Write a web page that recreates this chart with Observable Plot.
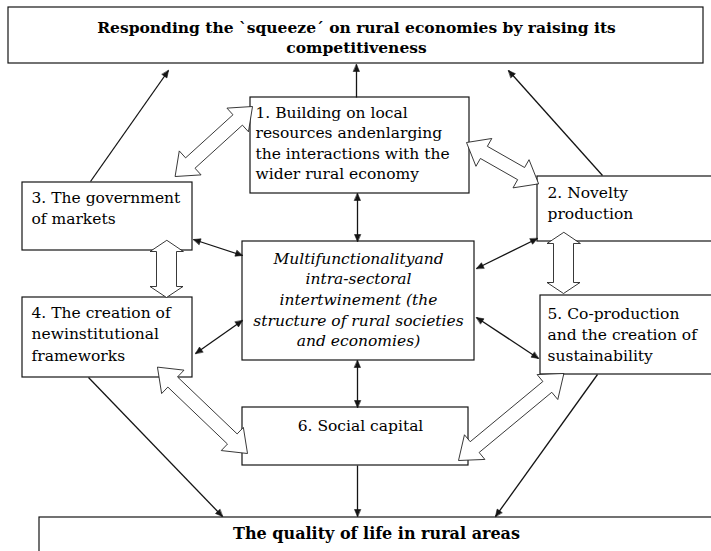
<!DOCTYPE html>
<html><head><meta charset="utf-8">
<script src="https://cdn.jsdelivr.net/npm/d3@7"></script>
<script src="https://cdn.jsdelivr.net/npm/@observablehq/plot@0.6"></script>
<style>body{margin:0;background:#fff}</style>
</head><body><div id="chart"></div>
<script>
// ---- diagram content ----
const boxIds = ["top","b1","b2","b3","b4","b5","center","b6","bottom"];
const boxLines = [
  ["Responding the `squeeze´ on rural economies by raising its", "competitiveness"],
  ["1. Building on local", "resources andenlarging", "the interactions with the", "wider rural economy"],
  ["2. Novelty", "production"],
  ["3. The government", "of markets"],
  ["4. The creation of", "newinstitutional", "frameworks"],
  ["5. Co-production", "and the creation of", "sustainability"],
  ["Multifunctionalityand", "intra-sectoral", "intertwinement (the", "structure of rural societies", "and economies)"],
  ["6. Social capital"],
  ["The quality of life in rural areas"]
];
const boxStyle = ["bold","plain","plain","plain","plain","plain","italic","plain","bold"];

// thin connectors (from box -> to box) and which ends carry heads
const linkFrom  = ["b1","b3","b2","b1","b3","b4","b2","b5","center","b6","b4","b5"];
const linkTo    = ["top","top","top","center","center","center","center","center","b6","bottom","bottom","bottom"];
const linkHeads = ["end","end","end","both","both","both","both","both","both","end","end","end"];

// hollow double block arrows
const blockFrom = ["b1","b1","b3","b2","b4","b5"];
const blockTo   = ["b3","b2","b4","b5","b6","b6"];

// ---- layout (pixel geometry of the diagram) ----
const boxLayout = {
  top:    {x1:8,   y1:7,   x2:703, y2:63,  tx:356, ty:32,  lh:20,   anchor:"middle", fs:15.5},
  b1:     {x1:250, y1:97,  x2:469, y2:193, tx:255, ty:117, lh:20.5, anchor:"start",  fs:15.5},
  b2:     {x1:537, y1:176, x2:716, y2:241, tx:547, ty:197, lh:21,   anchor:"start",  fs:15.5},
  b3:     {x1:22,  y1:182, x2:192, y2:250, tx:31,  ty:202, lh:21,   anchor:"start",  fs:15.5},
  b4:     {x1:22,  y1:297, x2:192, y2:377, tx:31,  ty:317, lh:21.5, anchor:"start",  fs:15.5},
  b5:     {x1:540, y1:295, x2:716, y2:374, tx:547, ty:318, lh:21,   anchor:"start",  fs:15.5},
  center: {x1:242, y1:241, x2:474, y2:360, tx:358, ty:263, lh:20.7, anchor:"middle", fs:15.5},
  b6:     {x1:242, y1:407, x2:468, y2:465, tx:360, ty:430, lh:20,   anchor:"middle", fs:15.5},
  bottom: {x1:39,  y1:517, x2:716, y2:570, tx:376, ty:538, lh:20,   anchor:"middle", fs:16}
};
const linkLayout = [
  [356,97, 356,64], [90,181, 168,70], [602,175, 508,70],
  [357,193, 357,241], [193,239, 242,255], [195,353, 242,320],
  [537,238, 476,268], [476,317, 538,358], [357,360, 357,407],
  [357,465, 357,516], [88,377, 222,516], [597,374, 495,516]
];
const blockLayout = [ // tipA, tipB, headLen, headHalf, shaftHalf
  [175,176, 252,106, 20,16,7],
  [538,183, 466,142, 20,16,7],
  [166,240, 166,297, 11,16.5,10],
  [563,232, 563,293, 11,16.5,10],
  [157,367, 247,453, 21,16,7],
  [563,373, 458,460, 21,16,7]
];

// ---- build mark data ----
const boxes = boxIds.map((id,i)=>({id, ...boxLayout[id]}));
const textRows = [];
boxIds.forEach((id,i)=>{
  const L = boxLayout[id];
  boxLines[i].forEach((t,j)=>textRows.push({id, style:boxStyle[i], anchor:L.anchor, fs:L.fs, x:L.tx, y:L.ty + j*L.lh, text:t}));
});
const links = linkFrom.map((f,i)=>{const p=linkLayout[i];return {from:f,to:linkTo[i],heads:linkHeads[i],x1:p[0],y1:p[1],x2:p[2],y2:p[3]};});

function headPoly(tx,ty,fx,fy,len,half){
  const dx=tx-fx, dy=ty-fy, L=Math.hypot(dx,dy), ux=dx/L, uy=dy/L, nx=-uy, ny=ux;
  const bx=tx-ux*len, by=ty-uy*len;
  return [[tx,ty],[bx+nx*half,by+ny*half],[bx-nx*half,by-ny*half]];
}
const headPts = [];
links.forEach((l,i)=>{
  headPoly(l.x2,l.y2,l.x1,l.y1,7,3).forEach(([x,y])=>headPts.push({id:"e"+i,x,y}));
  if (l.heads==="both") headPoly(l.x1,l.y1,l.x2,l.y2,7,3).forEach(([x,y])=>headPts.push({id:"s"+i,x,y}));
});

function blockPoly(ax,ay,bx,by,hl,hw,sw){
  const dx=bx-ax, dy=by-ay, L=Math.hypot(dx,dy), ux=dx/L, uy=dy/L, nx=-uy, ny=ux;
  const P=(x,y,a,b)=>[x+ux*a+nx*b, y+uy*a+ny*b];
  return [[ax,ay], P(ax,ay,hl,hw), P(ax,ay,hl,sw), P(bx,by,-hl,sw), P(bx,by,-hl,hw), [bx,by],
          P(bx,by,-hl,-hw), P(bx,by,-hl,-sw), P(ax,ay,hl,-sw), P(ax,ay,hl,-hw)];
}
const blockPts = [];
blockFrom.forEach((f,i)=>{
  const b=blockLayout[i];
  blockPoly(...b).forEach(([x,y])=>blockPts.push({id:f+"-"+blockTo[i],x,y}));
});

const W=711, H=551;
const ink="#141414";
const chart = Plot.plot({
  width: W, height: H, margin: 0,
  x: {domain:[0,W], range:[0,W], axis:null},
  y: {domain:[0,H], range:[0,H], axis:null},
  style: {background:"white", fontFamily:"'DejaVu Serif', serif", color:"black"},
  marks: [
    Plot.rect(boxes, {x1:"x1", x2:"x2", y1:"y1", y2:"y2", fill:"white", stroke:ink, strokeWidth:1.2}),
    Plot.link(links, {x1:"x1", y1:"y1", x2:"x2", y2:"y2", stroke:ink, strokeWidth:1.3}),
    Plot.line(headPts, {x:"x", y:"y", z:"id", fill:ink, stroke:ink, strokeWidth:0.6, curve:"linear-closed"}),
    Plot.line(blockPts, {x:"x", y:"y", z:"id", fill:"white", stroke:"#222", strokeWidth:0.9, curve:"linear-closed"}),
    Plot.text(textRows.filter(d=>d.style==="bold"), {x:"x", y:"y", text:"text", textAnchor:"middle", lineAnchor:"bottom", fontSize:"fs", fontWeight:"bold", fill:"black"}),
    Plot.text(textRows.filter(d=>d.style==="italic"), {x:"x", y:"y", text:"text", textAnchor:"middle", lineAnchor:"bottom", fontSize:"fs", fontStyle:"italic", fill:"black"}),
    Plot.text(textRows.filter(d=>d.style==="plain" && d.anchor==="start"), {x:"x", y:"y", text:"text", textAnchor:"start", lineAnchor:"bottom", fontSize:"fs", fill:"black"}),
    Plot.text(textRows.filter(d=>d.style==="plain" && d.anchor==="middle"), {x:"x", y:"y", text:"text", textAnchor:"middle", lineAnchor:"bottom", fontSize:"fs", fill:"black"})
  ]
});
document.getElementById("chart").appendChild(chart);
</script>
</body></html>
